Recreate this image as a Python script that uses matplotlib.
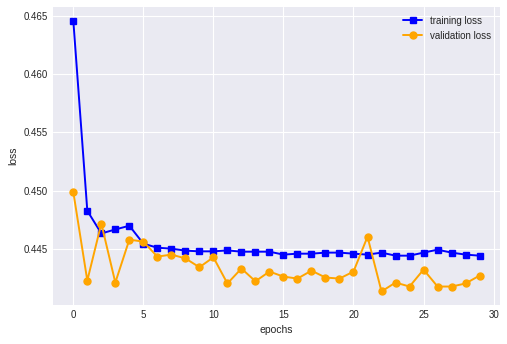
import matplotlib
matplotlib.use("Agg")
import matplotlib.pyplot as plt
import numpy as np

# loss per epoch
epochs = list(range(30))
training_loss = [
    0.46457, 0.44830, 0.44636, 0.44670, 0.44702, 0.44549, 0.44514, 0.44506,
    0.44489, 0.44483, 0.44483, 0.44491, 0.44480, 0.44480, 0.44480, 0.44455,
    0.44463, 0.44463, 0.44472, 0.44472, 0.44463, 0.44455, 0.44472, 0.44446,
    0.44446, 0.44472, 0.44497, 0.44472, 0.44455, 0.44446,
]
validation_loss = [
    0.44991, 0.44233, 0.44721, 0.44216, 0.44583, 0.44566, 0.44438, 0.44455,
    0.44423, 0.44347, 0.44432, 0.44208, 0.44336, 0.44227, 0.44310, 0.44267,
    0.44250, 0.44318, 0.44259, 0.44250, 0.44310, 0.44608, 0.44140, 0.44216,
    0.44182, 0.44327, 0.44182, 0.44182, 0.44208, 0.44276,
]

plt.style.use("seaborn-v0_8-darkgrid")
plt.rcParams["font.family"] = ["Liberation Sans", "DejaVu Sans"]

fig = plt.figure(figsize=(5.07, 3.44), dpi=100)
ax = fig.add_axes([0.1045, 0.1134, 0.8815, 0.8663])

ax.plot(epochs, training_loss, color="blue", marker="s", markersize=5,
        linewidth=1.4, label="training loss")
ax.plot(epochs, validation_loss, color="orange", marker="o", markersize=5,
        linewidth=1.4, label="validation loss")

ax.set_xlabel("epochs", fontsize=7.5, color="#262626")
ax.set_ylabel("loss", fontsize=7.5, color="#262626")
ax.tick_params(labelsize=7, colors="#262626")
ax.legend(loc="upper right", fontsize=7)

fig.savefig("out.png", dpi=100)
